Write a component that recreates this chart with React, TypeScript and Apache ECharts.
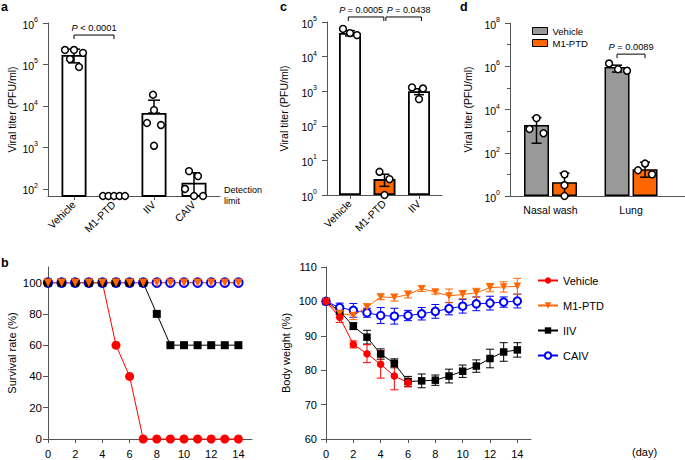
import React, { useEffect, useRef } from 'react';
import * as echarts from 'echarts';

const FONT = '"Liberation Sans", Arial, Helvetica, sans-serif';
const ORANGE = '#FF6600';
const GRAY = '#999999';
const RED = '#FF0000';
const BLUE = '#0000FF';
const AXIS = '#555555';

// ---------- Panel a: viral titer (log10 PFU/ml) ----------
const A_CATS = ['Vehicle', 'M1-PTD', 'IIV', 'CAIV'];
const A_MEAN = [5.23, 1.83, 3.83, 2.15];
const A_ERR_LO = [5.04, 1.83, 3.83, 1.83];
const A_ERR_HI = [5.37, 1.83, 4.14, 2.39];
const A_POINTS = [
  [5.35, 5.35, 5.28, 5.13, 4.94],
  [1.83, 1.83, 1.83, 1.83, 1.83],
  [4.27, 3.9, 3.59, 3.54, 3.04],
  [2.43, 2.31, 2.0, 1.83, 1.83],
];
const A_JITTER = [
  [-9, 0, 9, -4, 5],
  [-11, -5.5, 0, 5.5, 11],
  [-1, 0, -7, 7, 0],
  [-5, 4, -9, 0, 9],
];
const A_LIMIT = 1.83;
const A_DECADES = [2, 3, 4, 5, 6];

// ---------- Panel c ----------
const C_CATS = ['Vehicle', 'M1-PTD', 'IIV'];
const C_MEAN = [4.68, 0.46, 3.0];
const C_COLORS = ['#ffffff', ORANGE, '#ffffff'];
const C_ERR_LO = [4.6, 0.25, 2.9];
const C_ERR_HI = [4.75, 0.6, 3.07];
const C_POINTS = [
  [4.8, 4.68, 4.62],
  [0.67, 0.46, 0],
  [3.11, 3.08, 2.77],
];
const C_JITTER = [
  [-7, 0, 7],
  [-5, 5, 0],
  [-7, 4, 0],
];

// ---------- Panel d ----------
const D_CATS = ['Nasal wash', 'Lung'];
const D_GROUPS = ['Vehicle', 'M1-PTD'];
const D_COLORS = [GRAY, ORANGE];
const D_MEAN = [
  [3.28, 5.96],
  [0.64, 1.24],
];
const D_ERR_LO = [
  [2.44, 5.73],
  [0, 0.87],
];
const D_ERR_HI = [
  [3.63, 6.05],
  [1.06, 1.56],
];
const D_POINTS = [
  [[3.6, 3.1, 2.9], [6.13, 5.86, 5.79]],
  [[1.0, 0.5, 0], [1.5, 1.19, 1.0]],
];
const D_JITTER = [
  [[0, -7, 7], [-8, 1, 10]],
  [[0, 0, 0], [0, -7, 7]],
];
const D_BAR_W = 25;
const D_BAR_GAP = 3;

// ---------- Panel b: survival & body weight ----------
const DAYS = [0, 1, 2, 3, 4, 5, 6, 7, 8, 9, 10, 11, 12, 13, 14];
const DAY_TICKS = [0, 2, 4, 6, 8, 10, 12, 14];
const SURV_TICKS = [0, 20, 40, 60, 80, 100];
const SURV_VEH = [100, 100, 100, 100, 100, 60, 40, 0, 0, 0, 0, 0, 0, 0, 0];
const SURV_M1 = [100, 100, 100, 100, 100, 100, 100, 100, 100, 100, 100, 100, 100, 100, 100];
const SURV_IIV = [100, 100, 100, 100, 100, 100, 100, 100, 80, 60, 60, 60, 60, 60, 60];
const SURV_CAIV = [100, 100, 100, 100, 100, 100, 100, 100, 100, 100, 100, 100, 100, 100, 100];

const BW_VEH = [100, 95.4, 87.5, 84.8, 81.7, 78.3, 76.4];
const BW_VEH_SD = [0, 1.5, 1.0, 2.6, 4.0, 4.0, 1.2];
const BW_M1 = [100, 96.5, 95.9, 98.3, 101.3, 101.1, 102.0, 103.7, 102.7, 101.6, 102.0, 102.5, 104.0, 104.2, 104.4];
const BW_M1_SD = [0, 1, 1.2, 1, 0.8, 1, 1, 0.8, 0.6, 2, 1.2, 1.3, 1.2, 1.5, 2.3];
const BW_IIV = [100, 97.2, 92.8, 89.6, 84.7, 82.0, 76.7, 76.9, 77.1, 78.3, 79.7, 81.2, 83.4, 85.3, 85.9];
const BW_IIV_SD = [0, 1.0, 1.0, 2.0, 1.5, 1.3, 1.5, 2.0, 1.5, 2.0, 1.8, 1.8, 2.7, 2.7, 2.1];
const BW_CAIV = [100, 98.2, 97.4, 96.7, 95.9, 95.7, 95.9, 96.4, 97.1, 97.9, 98.6, 99.3, 99.5, 99.8, 100.1];
const BW_CAIV_SD = [0, 1.3, 2, 1.3, 2.3, 2.3, 1.5, 1.8, 2, 1.8, 2, 2, 2, 1.5, 2];
const BW_TICKS = [60, 70, 80, 90, 100, 110];

type Off = (g: number) => number;
const noOff: Off = () => 0;
const dOff: Off = (g) => (g - 0.5) * (D_BAR_W + D_BAR_GAP);

const pow10 = (v: number) => `{b|10}{s|${Math.round(v)}}`;
const powRich = {
  b: { fontSize: 10.5, fontFamily: FONT, color: '#000', lineHeight: 14, verticalAlign: 'bottom' },
  s: { fontSize: 7, fontFamily: FONT, color: '#000', lineHeight: 6, verticalAlign: 'top' },
};

function dotsSeries(idx: number, data: number[][], off: Off, r: number) {
  return {
    type: 'custom', xAxisIndex: idx, yAxisIndex: idx, z: 5, silent: true,
    encode: { x: 0, y: 1 }, data,
    renderItem: (_p: any, api: any) => {
      const p = api.coord([api.value(0), api.value(1)]);
      return {
        type: 'circle',
        shape: { cx: p[0] + off(api.value(3)) + api.value(2), cy: p[1], r },
        style: { fill: '#fff', stroke: '#000', lineWidth: 1.5 },
      };
    },
  };
}

function errorSeries(idx: number, name: string, data: number[][], off: Off, capHalf: number, color: string, lw: number, z = 4) {
  return {
    type: 'custom', name, xAxisIndex: idx, yAxisIndex: idx, z, silent: true,
    encode: { x: 0, y: [1, 2] }, data,
    renderItem: (_p: any, api: any) => {
      const x = api.value(0), lo = api.value(1), hi = api.value(2), g = api.value(3);
      if (!(hi > lo)) return null;
      const a = api.coord([x, lo]);
      const b = api.coord([x, hi]);
      const cx = a[0] + off(g);
      const st = { stroke: color, lineWidth: lw };
      return {
        type: 'group',
        children: [
          { type: 'line', shape: { x1: cx, y1: a[1], x2: cx, y2: b[1] }, style: st },
          { type: 'line', shape: { x1: cx - capHalf, y1: b[1], x2: cx + capHalf, y2: b[1] }, style: st },
          { type: 'line', shape: { x1: cx - capHalf, y1: a[1], x2: cx + capHalf, y2: a[1] }, style: st },
        ],
      };
    },
  };
}

// bracket data: [x1, group1, x2, group2, y, labelShiftPx]
function bracketSeries(idx: number, data: number[][], labels: string[], off: Off, fontSize: number) {
  return {
    type: 'custom', xAxisIndex: idx, yAxisIndex: idx, z: 6, silent: true,
    encode: { x: [0, 2], y: 4 }, data,
    renderItem: (params: any, api: any) => {
      const p1 = api.coord([api.value(0), api.value(4)]);
      const p2 = api.coord([api.value(2), api.value(4)]);
      const x1 = p1[0] + off(api.value(1));
      const x2 = p2[0] + off(api.value(3));
      const y = p1[1];
      return {
        type: 'group',
        children: [
          { type: 'polyline', shape: { points: [[x1, y + 4], [x1, y], [x2, y], [x2, y + 4]] }, style: { stroke: '#000', fill: 'none', lineWidth: 1 } },
          {
            type: 'text',
            style: {
              text: labels[params.dataIndex], x: (x1 + x2) / 2 + (api.value(5) || 0), y: y - 2.5,
              align: 'center', verticalAlign: 'bottom', fontSize, fontFamily: FONT, fill: '#000',
              rich: { i: { fontStyle: 'italic', fontSize, fontFamily: FONT, fill: '#000' } },
            },
          },
        ],
      };
    },
  };
}

const axisLine = { show: true, onZero: false, lineStyle: { color: AXIS, width: 1 } };
const tick = (len: number, values?: number[]) => ({ show: true, length: len, lineStyle: { color: AXIS }, ...(values ? { customValues: values } : {}) });
const yName = (name: string, gap: number, size: number) => ({
  name, nameLocation: 'middle', nameGap: gap, nameRotate: 90,
  nameTextStyle: { fontSize: size, fontFamily: FONT, color: '#000' },
});

function buildOption(): any {
  const series: any[] = [];

  // Panel a
  series.push({
    type: 'bar', xAxisIndex: 0, yAxisIndex: 0, barWidth: 25, z: 2, silent: true,
    data: A_MEAN.map((m, i) => [i, m]),
    itemStyle: { color: '#fff', borderColor: '#000', borderWidth: 1.8 },
  });
  series.push(errorSeries(0, 'eb-a', A_CATS.map((_, i) => [i, A_ERR_LO[i], A_ERR_HI[i], 0]), noOff, 6, '#000', 1.5));
  series.push(dotsSeries(0, A_POINTS.flatMap((pts, i) => pts.map((v, j) => [i, v, A_JITTER[i][j], 0])), noOff, 3.4));
  series.push(bracketSeries(0, [[0, 0, 1, 0, 5.71, 0]], ['{i|P} < 0.0001'], noOff, 9.3));

  // Panel c
  series.push({
    type: 'bar', xAxisIndex: 1, yAxisIndex: 1, barWidth: 22, z: 2, silent: true,
    data: C_MEAN.map((m, i) => ({ value: [i, m], itemStyle: { color: C_COLORS[i] } })),
    itemStyle: { borderColor: '#000', borderWidth: 1.8 },
  });
  series.push(errorSeries(1, 'eb-c', C_CATS.map((_, i) => [i, C_ERR_LO[i], C_ERR_HI[i], 0]), noOff, 5, '#000', 1.5));
  series.push(dotsSeries(1, C_POINTS.flatMap((pts, i) => pts.map((v, j) => [i, v, C_JITTER[i][j], 0])), noOff, 3.4));
  series.push(bracketSeries(1, [[-0.05, 0, 0.98, 0, 5.145, -5], [1.04, 0, 2.07, 0, 5.145, 5]], ['{i|P} = 0.0005', '{i|P} = 0.0438'], noOff, 9));

  // Panel d
  D_GROUPS.forEach((g, gi) => {
    series.push({
      type: 'bar', name: 'd:' + g, xAxisIndex: 2, yAxisIndex: 2, barWidth: D_BAR_W,
      barGap: `${(D_BAR_GAP / D_BAR_W) * 100}%`, z: 2, silent: true,
      data: D_CATS.map((_, ci) => [ci, D_MEAN[gi][ci]]),
      itemStyle: { color: D_COLORS[gi], borderColor: '#000', borderWidth: 1.5 },
    });
  });
  series.push(errorSeries(2, 'eb-d', D_GROUPS.flatMap((_, gi) => D_CATS.map((__, ci) => [ci, D_ERR_LO[gi][ci], D_ERR_HI[gi][ci], gi])), dOff, 5, '#000', 1.5));
  series.push(dotsSeries(2, D_GROUPS.flatMap((_, gi) => D_CATS.flatMap((__, ci) => D_POINTS[gi][ci].map((v, j) => [ci, v, D_JITTER[gi][ci][j], gi]))), dOff, 3.4));
  series.push(bracketSeries(2, [[1, 0, 1, 1, 6.56, 0]], ['{i|P} = 0.0089'], dOff, 9.3));

  // Survival
  const surv = (name: string, vals: number[], color: string, symbol: string, size: number, extra: any = {}) => ({
    type: 'line', name: 's:' + name, xAxisIndex: 3, yAxisIndex: 3, clip: false, silent: true,
    data: DAYS.map((d, i) => [d, vals[i]]), symbol, symbolSize: size, showAllSymbol: true,
    lineStyle: { color, width: 1 }, itemStyle: { color, ...(extra.itemStyle || {}) },
    ...(extra.rotate ? { symbolRotate: extra.rotate } : {}),
  });
  series.push(surv('Vehicle', SURV_VEH, RED, 'circle', 9));
  series.push(surv('CAIV', SURV_CAIV, BLUE, 'emptyCircle', 8.5, { itemStyle: { borderWidth: 1.5 } }));
  series.push(surv('IIV', SURV_IIV, '#000', 'rect', 8));
  series.push(surv('M1-PTD', SURV_M1, ORANGE, 'triangle', 8.5, { rotate: 180 }));

  // Body weight
  const bw = (name: string, vals: number[], sd: number[], color: string, symbol: string, size: number, extra: any = {}) => {
    series.push(errorSeries(4, 'eb-' + name, vals.map((v, i) => [DAYS[i], v - sd[i], v + sd[i], 0]), noOff, 4, color, 1, 3));
    series.push({
      type: 'line', name, xAxisIndex: 4, yAxisIndex: 4, clip: false, silent: true, z: 4,
      data: vals.map((v, i) => [DAYS[i], v]), symbol, symbolSize: size, showAllSymbol: true,
      lineStyle: { color, width: 1 }, itemStyle: { color, ...(extra.itemStyle || {}) },
      ...(extra.rotate ? { symbolRotate: extra.rotate } : {}),
    });
  };
  bw('IIV', BW_IIV, BW_IIV_SD, '#000', 'rect', 7.5);
  bw('CAIV', BW_CAIV, BW_CAIV_SD, BLUE, 'emptyCircle', 7.5, { itemStyle: { borderWidth: 1.8 } });
  bw('M1-PTD', BW_M1, BW_M1_SD, ORANGE, 'triangle', 7.5, { rotate: 180 });
  bw('Vehicle', BW_VEH, BW_VEH_SD, RED, 'circle', 7.5);

  const lbl = (size: number, extra: any = {}) => ({ fontSize: size, fontFamily: FONT, color: '#000', ...extra });

  return {
    animation: false,
    backgroundColor: '#fff',
    textStyle: { fontFamily: FONT },
    grid: [
      { left: 48, top: 23, width: 172, height: 173, containLabel: false, outerBoundsMode: 'none' },
      { left: 327, top: 22, width: 115, height: 173, containLabel: false, outerBoundsMode: 'none' },
      { left: 510, top: 23, width: 175, height: 173, containLabel: false, outerBoundsMode: 'none' },
      { left: 48, top: 267, width: 204, height: 172, containLabel: false, outerBoundsMode: 'none' },
      { left: 326, top: 267, width: 205, height: 172, containLabel: false, outerBoundsMode: 'none' },
    ],
    xAxis: [
      {
        gridIndex: 0, type: 'value', min: -0.65, max: 3.65, axisLine, splitLine: { show: false },
        axisTick: tick(4, A_CATS.map((_, i) => i)),
        axisLabel: lbl(10.5, { customValues: A_CATS.map((_, i) => i), formatter: (v: number) => A_CATS[Math.round(v)] ?? '', rotate: 45, margin: 7 }),
      },
      {
        gridIndex: 1, type: 'value', min: -0.667, max: 2.667, axisLine, splitLine: { show: false },
        axisTick: tick(4, C_CATS.map((_, i) => i)),
        axisLabel: lbl(10.5, { customValues: C_CATS.map((_, i) => i), formatter: (v: number) => C_CATS[Math.round(v)] ?? '', rotate: 45, margin: 7 }),
      },
      {
        gridIndex: 2, type: 'value', min: -0.503, max: 1.67, axisLine, splitLine: { show: false },
        axisTick: { show: false },
        axisLabel: lbl(10.5, { customValues: D_CATS.map((_, i) => i), formatter: (v: number) => D_CATS[Math.round(v)] ?? '', margin: 8 }),
      },
      {
        gridIndex: 3, type: 'value', min: 0, max: 15, axisLine, splitLine: { show: false },
        axisTick: tick(4, DAY_TICKS),
        axisLabel: lbl(11, { customValues: DAY_TICKS, margin: 9 }),
      },
      {
        gridIndex: 4, type: 'value', min: 0, max: 15, axisLine, splitLine: { show: false },
        axisTick: tick(4, DAY_TICKS),
        axisLabel: lbl(11, { customValues: DAY_TICKS, margin: 9 }),
      },
    ],
    yAxis: [
      {
        gridIndex: 0, type: 'value', min: A_LIMIT, max: 6, axisLine, splitLine: { show: false },
        axisTick: tick(5, A_DECADES),
        axisLabel: { customValues: A_DECADES, formatter: pow10, rich: powRich, margin: 10 },
        ...yName('Viral titer (PFU/ml)', 31, 10.5),
      },
      {
        gridIndex: 1, type: 'value', min: 0, max: 5, interval: 1, axisLine, splitLine: { show: false },
        axisTick: tick(5),
        axisLabel: { formatter: pow10, rich: powRich, margin: 10 },
        ...yName('Viral titer (PFU/ml)', 38, 10.5),
      },
      {
        gridIndex: 2, type: 'value', min: 0, max: 8, interval: 2, axisLine, splitLine: { show: false },
        axisTick: tick(5),
        minorTick: { show: true, splitNumber: 2, length: 3, lineStyle: { color: AXIS } },
        axisLabel: { formatter: pow10, rich: powRich, margin: 10 },
        ...yName('Viral titer (PFU/ml)', 37, 10.5),
      },
      {
        gridIndex: 3, type: 'value', min: 0, max: 110, axisLine, splitLine: { show: false },
        axisTick: tick(5, SURV_TICKS),
        axisLabel: lbl(11.5, { customValues: SURV_TICKS, margin: 6 }),
        ...yName('Survival rate (%)', 31, 11),
      },
      {
        gridIndex: 4, type: 'value', min: 60, max: 110, interval: 10, axisLine, splitLine: { show: false },
        axisTick: tick(5, BW_TICKS),
        axisLabel: lbl(11, { customValues: BW_TICKS, margin: 9 }),
        ...yName('Body weight (%)', 35, 11),
      },
    ],
    legend: [
      {
        left: 527, top: 21, orient: 'vertical', itemWidth: 15, itemHeight: 7, itemGap: 2,
        selectedMode: false, icon: 'rect',
        data: D_GROUPS.map((g) => 'd:' + g),
        formatter: (n: string) => n.replace('d:', ''),
        textStyle: { fontSize: 9.5, fontFamily: FONT, color: '#000' },
        itemStyle: { borderColor: '#000', borderWidth: 1 },
      },
      {
        left: 532, top: 270, orient: 'vertical', itemWidth: 20, itemHeight: 8, itemGap: 14,
        selectedMode: false,
        data: ['Vehicle', 'M1-PTD', 'IIV', 'CAIV'],
        textStyle: { fontSize: 11, fontFamily: FONT, color: '#000' },
      },
    ],
    graphic: [
      { type: 'text', left: 1, top: 0, style: { text: 'a', fontSize: 12.5, fontWeight: 'bold', fontFamily: FONT, fill: '#000' } },
      { type: 'text', left: 1, top: 256, style: { text: 'b', fontSize: 12.5, fontWeight: 'bold', fontFamily: FONT, fill: '#000' } },
      { type: 'text', left: 280, top: 0, style: { text: 'c', fontSize: 12.5, fontWeight: 'bold', fontFamily: FONT, fill: '#000' } },
      { type: 'text', left: 460, top: 0, style: { text: 'd', fontSize: 12.5, fontWeight: 'bold', fontFamily: FONT, fill: '#000' } },
      { type: 'text', left: 224, top: 184, style: { text: 'Detection\nlimit', fontSize: 9, lineHeight: 11, fontFamily: FONT, fill: '#000' } },
      { type: 'text', left: 632, top: 446, style: { text: '(day)', fontSize: 11, fontFamily: FONT, fill: '#000' } },
    ],
    series,
  };
}

export default function App() {
  const ref = useRef<HTMLDivElement>(null);
  useEffect(() => {
    const chart = echarts.init(ref.current!, undefined, { renderer: 'svg' });
    chart.setOption(buildOption());
    return () => chart.dispose();
  }, []);
  return (
    <div
      ref={ref}
      style={{ position: 'fixed', left: 0, top: 0, width: 685, height: 460, background: '#fff' }}
    />
  );
}
